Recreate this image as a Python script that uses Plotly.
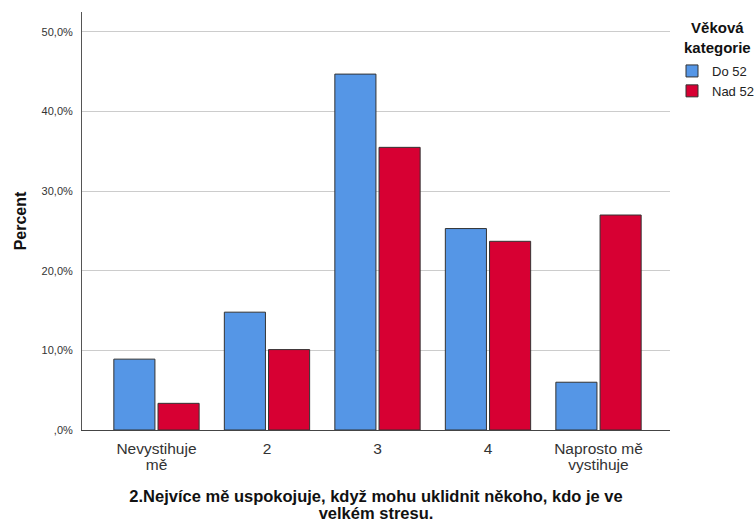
import plotly.graph_objects as go

categories = ["Nevystihuje<br>mě", "2", "3", "4", "Naprosto mě<br>vystihuje"]
do_52 = [8.9, 14.8, 44.7, 25.3, 6.0]
nad_52 = [3.35, 10.1, 35.5, 23.7, 27.0]
series_names = ["Do 52", "Nad 52"]
y_tickvals = [0, 10, 20, 30, 40, 50]
y_ticktext = [",0%", "10,0%", "20,0%", "30,0%", "40,0%", "50,0%"]
x_title_lines = ["2.Nejvíce mě uspokojuje, když mohu uklidnit někoho, kdo je ve", "velkém stresu."]
y_title = "Percent"
legend_title_lines = ["Věková", "kategorie"]

FONT = "Liberation Sans, Arial, sans-serif"


def sized(lines, px):
    return "<br>".join('<span style="font-size:%spx">%s</span>' % (px, s) for s in lines)


tick_text = [sized(c.split("<br>"), 15.5) for c in categories]

fig = go.Figure()
fig.add_trace(go.Bar(x=categories, y=do_52, name=series_names[0],
                     marker=dict(color="#5596E6", line=dict(color="#333333", width=1))))
fig.add_trace(go.Bar(x=categories, y=nad_52, name=series_names[1],
                     marker=dict(color="#D70033", line=dict(color="#333333", width=1))))

fig.update_layout(
    width=756, height=522,
    margin=dict(l=82, r=86, t=12, b=92, autoexpand=False),
    paper_bgcolor="white", plot_bgcolor="white",
    font=dict(family=FONT, color="#222222"),
    barmode="group", bargap=0.2, bargroupgap=0.07,
    showlegend=True,
    legend=dict(xref="container", yref="container", x=672/756, y=1 - 56/522,
                xanchor="left", yanchor="top", font=dict(size=13, color="#222222"),
                bgcolor="rgba(0,0,0,0)", itemclick=False, tracegroupgap=0),
    xaxis=dict(range=[-0.674, 4.647], showline=True, linecolor="#444444", linewidth=1,
               ticks="", showgrid=False, tickfont=dict(size=12, color="#333333"),
               ticklabelstandoff=9,
               tickmode="array", tickvals=categories, ticktext=tick_text,
               title=dict(text=sized(x_title_lines, 16.5), font=dict(size=13, color="#111111", weight="bold"),
                          standoff=28)),
    yaxis=dict(range=[0, 52.5], tickvals=y_tickvals, ticktext=y_ticktext,
               showline=True, linecolor="#555555", linewidth=1,
               showgrid=True, gridcolor="#cccccc", gridwidth=1, zeroline=False,
               ticks="", ticklabelstandoff=6, tickfont=dict(size=11, color="#333333"),
               title=dict(text=y_title, font=dict(size=16, color="#111111", weight="bold"), standoff=10)),
    annotations=[dict(text="<b>" + "<br>".join(legend_title_lines) + "</b>", xref="paper", yref="paper",
                      x=(717 - 82) / 588, y=(430 - 37) / 418, xanchor="center", yanchor="middle",
                      showarrow=False, font=dict(size=15, color="#111111"), align="center")],
)

fig.write_html("out.html", config={"displayModeBar": False},
               post_script="document.body.style.margin='0';document.body.style.overflow='hidden';")
